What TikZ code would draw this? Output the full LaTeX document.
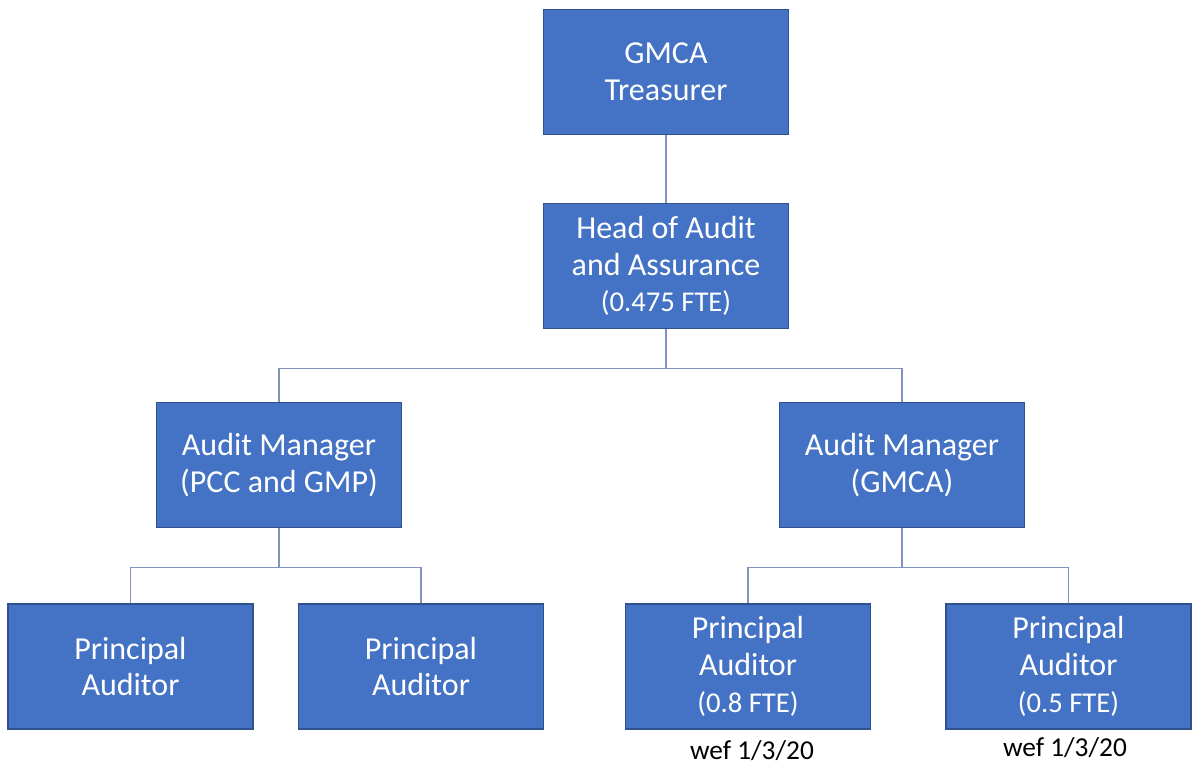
\documentclass[tikz,border=0pt]{standalone}
\usepackage{fontspec}
\setmainfont{Carlito}
\definecolor{boxblue}{HTML}{4472C4}
\definecolor{boxedge}{HTML}{2F528F}
\definecolor{linkgrey}{RGB}{128,148,188}
\newcommand{\fte}[1]{{\fontsize{21.5}{27.5}\selectfont #1}}
\tikzset{%
    post/.style={%
        draw=boxedge,%
        fill=boxblue,%
        text=white,%
        line width=1.2pt,%
        minimum width=183.75pt,%
        minimum height=93.75pt,%
        align=center,%
        font=\fontsize{24}{27.5}\selectfont%
    },%
    link/.style={%
        draw=linkgrey,%
        line width=1.1pt%
    },%
    note/.style={%
        font=\fontsize{20.5}{24}\selectfont%
    }%
}

\begin{document}
\begin{tikzpicture}[x=0.75pt,y=-0.75pt]
    \useasboundingbox (0,0) rectangle (1192,767);
    \node[post] (treasurer) at (666,72) {GMCA\\Treasurer};
    \node[post] (head) at (666,266) {Head of Audit\\and Assurance\\\fte{(0.475 FTE)}};
    \node[post] (pccmgr) at (279,465) {Audit Manager\\(PCC and GMP)};
    \node[post] (gmcamgr) at (902,465) {Audit Manager\\(GMCA)};
    \node[post] (pccpa1) at (130.5,666.5) {Principal\\Auditor};
    \node[post] (pccpa2) at (421,666.5) {Principal\\Auditor};
    \node[post] (gmcapa1) at (748,666.5) {Principal\\Auditor\\\fte{(0.8 FTE)}};
    \node[post] (gmcapa2) at (1068.5,666.5) {Principal\\Auditor\\\fte{(0.5 FTE)}};
    \node[note] (wef1) at (752,751) {wef 1/3/20};
    \node[note] (wef2) at (1065,748) {wef 1/3/20};
    \draw[link] (treasurer) -- (head);
    \draw[link] (head.south) -- ++(0,39) -| (pccmgr.north);
    \draw[link] (head.south) -- ++(0,39) -| (gmcamgr.north);
    \draw[link] (pccmgr.south) -- ++(0,39) -| (pccpa1.north);
    \draw[link] (pccmgr.south) -- ++(0,39) -| (pccpa2.north);
    \draw[link] (gmcamgr.south) -- ++(0,39) -| (gmcapa1.north);
    \draw[link] (gmcamgr.south) -- ++(0,39) -| (gmcapa2.north);
\end{tikzpicture}
\end{document}
